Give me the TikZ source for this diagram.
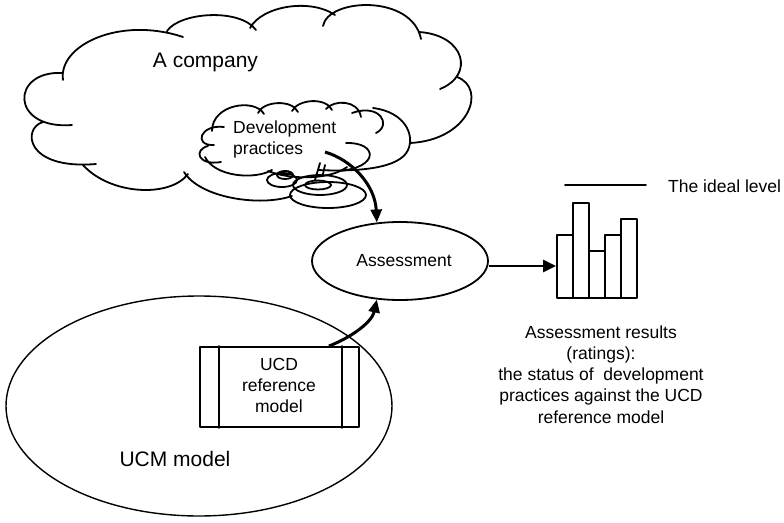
\documentclass[tikz,border=0pt]{standalone}
\usepackage{fontspec}
\setmainfont{Liberation Sans}
\usetikzlibrary{arrows.meta,shapes.geometric}

% stacked lines of text, first baseline is the node baseline
\newcommand\linesc[1]{\begin{tabular}[t]{@{}c@{}}#1\end{tabular}}
\newcommand\linesl[1]{\begin{tabular}[t]{@{}l@{}}#1\end{tabular}}

\tikzset{
  outline/.style={line width=1.8pt, line join=round, line cap=round},
  thinline/.style={line width=1.4pt},
  flow/.style={line width=3pt, -{Triangle[length=13pt,width=11pt]}},
  flowstraight/.style={line width=2.7pt, -{Triangle[length=13pt,width=12pt]}},
  txt/.style={font=\fontsize{17.5}{21.3}\selectfont, inner sep=0pt},
  bigtxt/.style={font=\fontsize{21}{25}\selectfont, inner sep=0pt},
}

\begin{document}
\begin{tikzpicture}[x=1pt,y=-1pt]
\useasboundingbox (0,0) rectangle (784,522);

% ---- the company cloud, one arc per puff ----
\draw[outline]
  (63,80) .. controls (58,45) and (120,16) .. (183,37)
  (167,31) .. controls (180,12) and (240,8) .. (256,30)
  (250,28) .. controls (262,6) and (310,-2) .. (335,15)
  (323,26) .. controls (328,-2) and (412,-6) .. (421,39)
  (419,32) .. controls (465,35) and (475,75) .. (440,89)
  (457,77) .. controls (487,88) and (470,140) .. (410,143)
  (373,108) .. controls (405,112) and (415,135) .. (408,150)
            .. controls (400,168) and (360,172) .. (318,170)
  (184,172) .. controls (200,198) and (260,207) .. (292,196)
  (83,165) .. controls (110,195) and (170,198) .. (188,174)
  (43,122) .. controls (22,128) and (25,170) .. (96,164)
  (63,73) .. controls (10,70) and (10,130) .. (72,125);

% ---- the development practices cloud ----
\draw[outline]
  (212,131) .. controls (212,104) and (255,98) .. (264,114)
  (258,113) .. controls (263,101) and (292,99) .. (298,112)
  (292,111) .. controls (298,99) and (326,97) .. (332,110)
  (326,109) .. controls (333,100) and (358,99) .. (361,117)
  (352,113) .. controls (380,103) and (392,125) .. (376,133)
  (346,143) .. controls (378,142) and (380,168) .. (338,171)
  (347,167) .. controls (330,180) and (290,180) .. (268,171)
  (205,157) .. controls (215,177) and (255,180) .. (272,170)
  (208,146) .. controls (193,150) and (198,166) .. (221,162)
  (224,127) .. controls (200,124) and (193,146) .. (214,145)
  (320,163) -- (315,180)
  (325,165) -- (323,174);

% bubbles under the clouds
\draw[outline] (328,195) ellipse [x radius=38, y radius=13];
\draw[outline] (320,185) ellipse [x radius=27, y radius=10];
\draw[outline] (318,185) ellipse [x radius=13, y radius=4.5];
\draw[outline] (282,180) ellipse [x radius=15, y radius=7];
\draw[outline] (285,175) ellipse [x radius=8, y radius=4];
\draw[outline] (286,173) ellipse [x radius=4, y radius=1.8];

\node[bigtxt, anchor=base] (company) at (205.5,67) {A company};
\node[txt, anchor=base west] (dev) at (233,133) {\linesl{Development\\practices}};

% ---- UCM model ----
\node[draw, ellipse, thinline, minimum width=386pt, minimum height=220pt, inner sep=0pt] (ucm) at (199,406) {};
\node[bigtxt, anchor=base] (ucmlabel) at (175,466) {UCM model};

\node[draw, outline, minimum width=159pt, minimum height=80pt, inner sep=0pt] (ucd) at (279.5,387) {};
\draw[outline] ([xshift=20pt]ucd.north west) -- ([xshift=20pt]ucd.south west);
\draw[outline] ([xshift=-18pt]ucd.north east) -- ([xshift=-18pt]ucd.south east);
\node[txt, anchor=base] (ucdtext) at (279,370) {\linesc{UCD\\reference\\model}};

% ---- assessment ----
\node[draw, ellipse, outline, minimum width=176pt, minimum height=78pt, inner sep=0pt] (asmt) at (400,261) {};
\node[txt, anchor=base] (asmttext) at (404,266.5) {Assessment};

% ---- results chart ----
\draw[outline] (557,235) rectangle (573,298);
\draw[outline] (573,203) rectangle (589,298);
\draw[outline] (589,251) rectangle (605,298);
\draw[outline] (605,235) rectangle (621,298);
\draw[outline] (621,219) rectangle (637,298);
\coordinate (idealA) at (565,185);
\coordinate (idealB) at (646,185);
\draw[outline] (idealA) -- (idealB);
\node[txt, anchor=base west] (ideal) at (668,192) {The ideal level};
\node[txt, anchor=base] (results) at (601,338)
  {\linesc{Assessment results\\(ratings):\\the status of\ \ development\\practices against the UCD\\reference model}};

% ---- connectors ----
\coordinate (devout) at (325,152);
\coordinate (ucdout) at ([xshift=-31pt]ucd.north east);
\coordinate (chartin) at (556,266);
\draw[flow] (devout) .. controls (352,160) and (375,185) .. (asmt.121);
\draw[flow] (ucdout) .. controls (352,337) and (372,322) .. (asmt.239);
\draw[flowstraight] ([yshift=-5pt]asmt.east) -- (chartin);
\end{tikzpicture}
\end{document}
